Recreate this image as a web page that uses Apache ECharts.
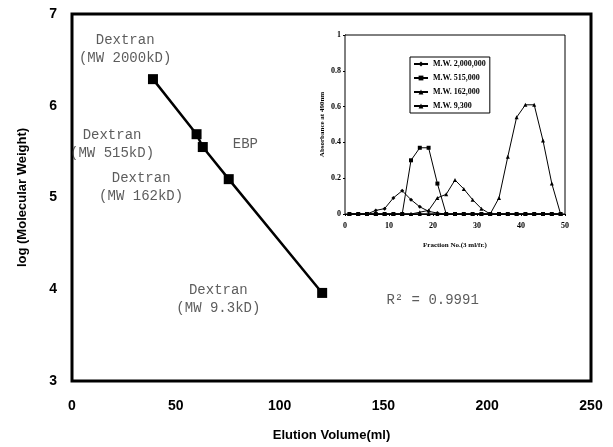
<!DOCTYPE html>
<html>
<head>
<meta charset="utf-8">
<script src="https://cdn.jsdelivr.net/npm/echarts@6/dist/echarts.min.js"></script>
<style>
    html, body { margin: 0; padding: 0; background: #fff; }
    #chart { width: 613px; height: 447px; }
</style>
</head>
<body>
<div id="chart"></div>
<script>
// ============================================
// MAIN CALIBRATION CURVE
// ============================================

// Elution volume (ml) vs log(MW) for standards and EBP
const elutionVolume = [39, 60, 63, 75.5, 120.5];
const logMW = [6.29, 5.69, 5.55, 5.2, 3.96];

const mainXTicks = [0, 50, 100, 150, 200, 250];
const mainYTicks = [3, 4, 5, 6, 7];

// Text labels placed in data units of the main chart
const annoText = [
    'Dextran\n(MW 2000kD)',
    'Dextran\n(MW 515kD)',
    'Dextran\n(MW 162kD)',
    'Dextran\n(MW 9.3kD)',
    'EBP',
    'R² = 0.9991'
];
const annoX = [25.6, 19.3, 33.3, 70.5, 83.5, 173.7];
const annoY = [6.62, 5.58, 5.11, 3.89, 5.58, 3.88];

// ============================================
// INSET: ELUTION PROFILES
// ============================================

const fractions = [1, 3, 5, 7, 9, 11, 13, 15, 17, 19, 21, 23, 25, 27, 29, 31, 33, 35, 37, 39, 41, 43, 45, 47, 49];
const mw2000000 = [0, 0, 0, 0.02, 0.03, 0.09, 0.13, 0.08, 0.04, 0.015, 0.005, 0, 0, 0, 0, 0, 0, 0, 0, 0, 0, 0, 0, 0, 0];
const mw515000 = [0, 0, 0, 0, 0, 0, 0, 0.3, 0.37, 0.37, 0.17, 0, 0, 0, 0, 0, 0, 0, 0, 0, 0, 0, 0, 0, 0];
const mw162000 = [0, 0, 0, 0, 0, 0, 0, 0, 0.01, 0.02, 0.09, 0.11, 0.19, 0.14, 0.08, 0.03, 0, 0, 0, 0, 0, 0, 0, 0, 0];
const mw9300 = [0, 0, 0, 0, 0, 0, 0, 0, 0, 0, 0, 0, 0, 0, 0, 0, 0, 0.09, 0.32, 0.54, 0.61, 0.61, 0.41, 0.17, 0];

const insetNames = ['M.W. 2,000,000', 'M.W. 515,000', 'M.W. 162,000', 'M.W. 9,300'];
const insetSymbols = ['diamond', 'rect', 'triangle', 'triangle'];

function pairs(xs, ys) {
    return xs.map((x, i) => [x, ys[i]]);
}

const chart = echarts.init(document.getElementById('chart'));

const boldSans = { fontFamily: 'Liberation Sans', fontWeight: 'bold', color: '#000' };
const smallSerif = { fontFamily: 'Liberation Serif', fontWeight: 'bold', color: '#000' };

const insetSeries = [mw2000000, mw515000, mw162000, mw9300].map((vals, i) => ({
    name: insetNames[i],
    type: 'line',
    xAxisIndex: 1,
    yAxisIndex: 1,
    data: pairs(fractions, vals),
    symbol: insetSymbols[i],
    symbolSize: 4,
    showSymbol: true,
    lineStyle: { color: '#000', width: 1 },
    itemStyle: { color: '#000' },
    z: 5
}));

const option = {
    backgroundColor: '#fff',
    animation: false,
    grid: [
        { left: 72, top: 14, right: 22, bottom: 66, show: true, borderColor: '#000', borderWidth: 3, backgroundColor: '#fff' },
        { left: 345, top: 35, right: 48, bottom: 233, show: true, borderColor: '#000', borderWidth: 1, backgroundColor: '#fff', z: 3 }
    ],
    legend: {
        data: insetNames,
        orient: 'vertical',
        left: 410,
        top: 57,
        itemGap: 6,
        itemWidth: 14,
        itemHeight: 6,
        padding: [3, 4, 3, 3],
        borderColor: '#000',
        borderWidth: 1,
        backgroundColor: '#fff',
        textStyle: Object.assign({ fontSize: 8 }, smallSerif)
    },
    xAxis: [
        {
            gridIndex: 0,
            type: 'value',
            min: mainXTicks[0],
            max: mainXTicks[mainXTicks.length - 1],
            interval: 50,
            name: 'Elution Volume(ml)',
            nameLocation: 'middle',
            nameGap: 48,
            nameTextStyle: Object.assign({ fontSize: 13 }, boldSans),
            axisLine: { show: false },
            axisTick: { show: false },
            splitLine: { show: false },
            axisLabel: Object.assign({ fontSize: 14, margin: 18 }, boldSans)
        },
        {
            gridIndex: 1,
            type: 'value',
            min: 0,
            max: 50,
            interval: 10,
            name: 'Fraction No.(3 ml/fr.)',
            nameLocation: 'middle',
            nameGap: 28,
            nameTextStyle: Object.assign({ fontSize: 7 }, smallSerif),
            axisLine: { show: true, lineStyle: { color: '#000', width: 1 } },
            axisTick: { show: true, length: 2, lineStyle: { color: '#000' } },
            splitLine: { show: false },
            axisLabel: Object.assign({ fontSize: 8, margin: 8 }, smallSerif)
        }
    ],
    yAxis: [
        {
            gridIndex: 0,
            type: 'value',
            min: mainYTicks[0],
            max: mainYTicks[mainYTicks.length - 1],
            interval: 1,
            name: 'log (Molecular Weight)',
            nameLocation: 'middle',
            nameGap: 43,
            nameTextStyle: Object.assign({ fontSize: 13 }, boldSans),
            axisLine: { show: false },
            axisTick: { show: false },
            splitLine: { show: false },
            axisLabel: Object.assign({ fontSize: 14, margin: 15 }, boldSans)
        },
        {
            gridIndex: 1,
            type: 'value',
            min: 0,
            max: 1,
            interval: 0.2,
            name: 'Absorbance at 490nm',
            nameLocation: 'middle',
            nameGap: 19,
            nameTextStyle: Object.assign({ fontSize: 7 }, smallSerif),
            axisLine: { show: true, lineStyle: { color: '#000', width: 1 } },
            axisTick: { show: true, length: 2, lineStyle: { color: '#000' } },
            splitLine: { show: false },
            axisLabel: Object.assign({ fontSize: 8, margin: 4 }, smallSerif)
        }
    ],
    series: [
        {
            name: 'Calibration',
            type: 'line',
            xAxisIndex: 0,
            yAxisIndex: 0,
            data: pairs(elutionVolume, logMW),
            symbol: 'rect',
            symbolSize: 10,
            lineStyle: { color: '#000', width: 2.5 },
            itemStyle: { color: '#000' },
            z: 4
        },
        {
            name: 'Labels',
            type: 'scatter',
            xAxisIndex: 0,
            yAxisIndex: 0,
            symbolSize: 0,
            silent: true,
            data: annoText.map((t, i) => ({ value: [annoX[i], annoY[i]], name: t })),
            label: {
                show: true,
                position: 'inside',
                formatter: p => p.name,
                fontFamily: 'Liberation Mono',
                fontSize: 14,
                lineHeight: 18,
                color: '#333',
                align: 'center'
            },
            z: 2
        }
    ].concat(insetSeries)
};

chart.setOption(option);
</script>
</body>
</html>
